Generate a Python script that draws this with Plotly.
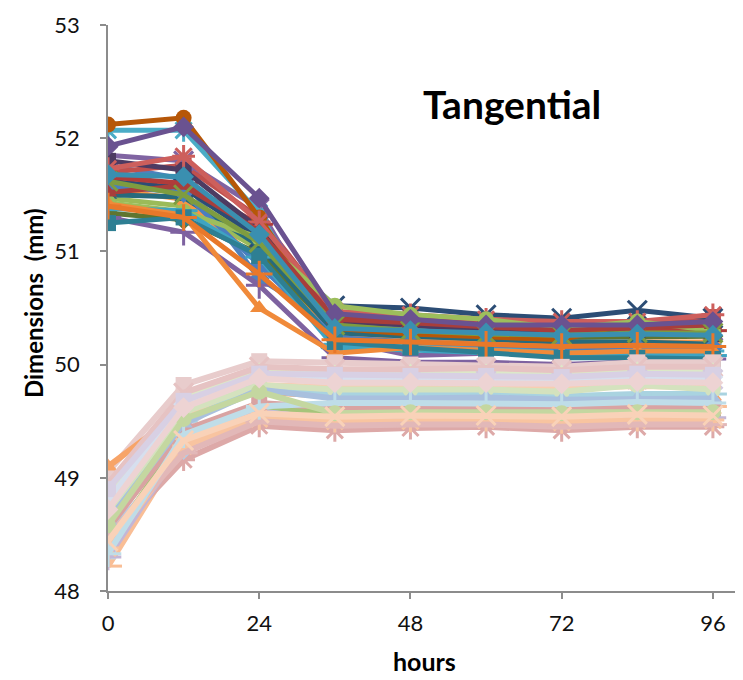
import plotly.graph_objects as go

hours = [0, 12, 24, 36, 48, 60, 72, 84, 96]
x_ticks = [0, 24, 48, 72, 96]
y_ticks = [48, 49, 50, 51, 52, 53]

# Upper group (initially swollen samples)
u01 = [51.76, 51.64, 50.76, 50.35, 50.33, 50.30, 50.30, 50.30, 50.30]
u02 = [51.70, 51.76, 51.30, 50.45, 50.42, 50.38, 50.36, 50.36, 50.42]
u03 = [51.47, 51.40, 51.02, 50.40, 50.38, 50.34, 50.30, 50.32, 50.32]
u04 = [51.85, 51.80, 51.38, 50.22, 50.08, 50.10, 50.10, 50.12, 50.15]
u05 = [52.07, 52.07, 51.34, 50.18, 50.17, 50.15, 50.13, 50.13, 50.12]
u06 = [51.55, 51.46, 50.92, 50.26, 50.22, 50.20, 50.18, 50.20, 50.20]
u07 = [51.62, 51.56, 51.12, 50.52, 50.50, 50.44, 50.41, 50.48, 50.41]
u08 = [51.66, 51.60, 51.24, 50.43, 50.40, 50.35, 50.33, 50.32, 50.30]
u09 = [51.34, 51.28, 50.98, 50.30, 50.28, 50.25, 50.24, 50.24, 50.25]
u10 = [51.80, 51.72, 51.20, 50.38, 50.35, 50.30, 50.28, 50.28, 50.27]
u11 = [51.50, 51.48, 51.05, 50.28, 50.25, 50.22, 50.20, 50.20, 50.18]
u12 = [52.12, 52.18, 51.30, 50.32, 50.27, 50.25, 50.22, 50.38, 50.35]
u13 = [51.58, 51.52, 50.88, 50.24, 50.20, 50.18, 50.15, 50.15, 50.15]
u14 = [51.73, 51.84, 51.26, 50.47, 50.44, 50.40, 50.38, 50.38, 50.44]
u15 = [51.43, 51.35, 51.12, 50.52, 50.44, 50.40, 50.32, 50.38, 50.30]
u16 = [51.30, 51.17, 50.70, 50.06, 50.02, 50.02, 50.00, 50.03, 50.05]
u17 = [51.38, 51.36, 50.95, 50.15, 50.13, 50.10, 50.08, 50.08, 50.08]
u18 = [51.42, 51.32, 50.50, 50.10, 50.15, 50.12, 50.10, 50.12, 50.12]
u19 = [51.25, 51.30, 50.96, 50.20, 50.15, 50.10, 50.06, 50.06, 50.05]
u20 = [51.52, 51.58, 51.18, 50.40, 50.37, 50.33, 50.30, 50.33, 50.35]
u21 = [51.62, 51.50, 51.08, 50.35, 50.30, 50.27, 50.26, 50.28, 50.28]
u22 = [51.93, 52.10, 51.47, 50.45, 50.40, 50.35, 50.35, 50.35, 50.38]
u23 = [51.68, 51.66, 51.15, 50.32, 50.30, 50.28, 50.26, 50.27, 50.26]
u24 = [51.40, 51.30, 50.80, 50.22, 50.20, 50.18, 50.16, 50.17, 50.16]

# Lower group (initially dry samples)
l01 = [49.05, 49.82, 50.03, 50.02, 50.00, 50.00, 49.98, 50.02, 50.02]
l02 = [48.22, 49.30, 49.62, 49.60, 49.62, 49.62, 49.60, 49.63, 49.63]
l03 = [49.10, 49.60, 49.76, 49.72, 49.73, 49.73, 49.70, 49.72, 49.72]
l04 = [48.45, 49.16, 49.46, 49.42, 49.44, 49.45, 49.42, 49.45, 49.45]
l05 = [48.85, 49.70, 49.95, 49.93, 49.94, 49.94, 49.93, 49.96, 49.95]
l06 = [48.60, 49.45, 49.88, 49.86, 49.86, 49.86, 49.85, 49.87, 49.87]
l07 = [48.35, 49.35, 49.60, 49.58, 49.60, 49.60, 49.58, 49.60, 49.60]
l08 = [48.75, 49.55, 49.82, 49.80, 49.80, 49.80, 49.79, 49.81, 49.80]
l09 = [48.50, 49.25, 49.55, 49.66, 49.68, 49.68, 49.66, 49.68, 49.66]
l10 = [48.95, 49.75, 49.98, 49.96, 49.96, 49.97, 49.95, 49.98, 49.98]
l11 = [48.40, 49.40, 49.64, 49.56, 49.57, 49.57, 49.55, 49.57, 49.55]
l12 = [48.65, 49.50, 49.80, 49.74, 49.74, 49.74, 49.72, 49.74, 49.74]
l13 = [48.30, 49.30, 49.58, 49.52, 49.53, 49.53, 49.52, 49.53, 49.53]
l14 = [48.80, 49.65, 49.90, 49.88, 49.88, 49.88, 49.86, 49.89, 49.89]
l15 = [48.55, 49.42, 49.66, 49.62, 49.62, 49.62, 49.60, 49.62, 49.62]
l16 = [48.70, 49.58, 49.82, 49.78, 49.78, 49.78, 49.76, 49.82, 49.78]
l17 = [48.38, 49.28, 49.52, 49.50, 49.50, 49.51, 49.49, 49.51, 49.51]
l18 = [48.90, 49.68, 49.92, 49.91, 49.90, 49.90, 49.89, 49.92, 49.91]
l19 = [48.48, 49.22, 49.50, 49.46, 49.47, 49.47, 49.45, 49.47, 49.47]
l20 = [48.62, 49.48, 49.78, 49.70, 49.70, 49.71, 49.69, 49.70, 49.70]
l21 = [48.33, 49.38, 49.63, 49.66, 49.66, 49.66, 49.65, 49.67, 49.66]
l22 = [48.58, 49.52, 49.76, 49.57, 49.58, 49.58, 49.57, 49.58, 49.58]
l23 = [48.72, 49.62, 49.88, 49.84, 49.84, 49.84, 49.83, 49.85, 49.84]
l24 = [48.44, 49.33, 49.57, 49.54, 49.55, 49.55, 49.54, 49.56, 49.55]

upper = [u01, u02, u03, u04, u05, u06, u07, u08, u09, u10, u11, u12,
         u13, u14, u15, u16, u17, u18, u19, u20, u21, u22, u23, u24]
lower = [l01, l02, l03, l04, l05, l06, l07, l08, l09, l10, l11, l12,
         l13, l14, l15, l16, l17, l18, l19, l20, l21, l22, l23, l24]

# styles
upper_colors = ["#4F81BD", "#C0504D", "#9BBB59", "#8064A2", "#4BACC6", "#F79646",
                "#2C4D75", "#B03C3A", "#5F7530", "#4D3B62", "#276A7C", "#B65708",
                "#4A7EC0", "#CD5F5C", "#9DBE5C", "#7E62A0", "#3FA4C2", "#F08A3A",
                "#2E7F93", "#A83E3B", "#7E9C40", "#6A5290", "#3A8FB0", "#E8782A"]
upper_markers = ["diamond", "square", "triangle-up", "x-thin-open", "asterisk-open", "circle",
                 "x-thin-open", "line-ew-open", "diamond", "square", "triangle-up", "circle",
                 "diamond", "asterisk-open", "circle", "cross-thin-open", "line-ew-open", "triangle-up",
                 "square", "triangle-up", "x-thin-open", "diamond", "diamond", "cross-thin-open"]
lower_colors = ["#E8CCCC", "#F9BE96", "#F7A468", "#DDA9A8", "#DCE8C8", "#D3CADF",
                "#BEDCE6", "#F9CDB0", "#B8CAE3", "#E6C3C3", "#A6C47A", "#A9D3E0",
                "#C4B6D6", "#D6DFEE", "#D9A3A2", "#D4E2BE", "#F8C4A0", "#D8D0E4",
                "#E2B8B8", "#A9C0DE", "#BFDDE8", "#C4D7A0", "#EDD3D3", "#F9D2B8"]
lower_markers = ["square", "line-ew-open", "triangle-up", "asterisk-open", "triangle-up", "x-thin-open",
                 "square", "circle", "diamond", "x-thin-open", "circle", "line-ew-open",
                 "cross-thin-open", "diamond", "square", "circle", "asterisk-open", "square",
                 "line-ew-open", "triangle-up", "cross-thin-open", "circle", "diamond", "x-thin-open"]

fig = go.Figure()


def add(vals, color, sym, lw):
    open_sym = sym.endswith("-open")
    size = 19 if open_sym else 16
    if sym == "line-ew-open":
        size = 20
    fig.add_trace(go.Scatter(
        x=hours, y=vals, mode="lines+markers",
        line=dict(color=color, width=lw),
        marker=dict(symbol=sym, size=size, color=color,
                    line=dict(color=color, width=3 if open_sym else 0)),
        showlegend=False, hoverinfo="skip"))


for vals, c, m in zip(upper, upper_colors, upper_markers):
    add(vals, c, m, 5)
for vals, c, m in zip(lower, lower_colors, lower_markers):
    add(vals, c, m, 6)

font_family = "Lato, sans-serif"

# plot area in page pixels: x 108..740, y 15..591 (page has 8px body margin)
PX0, PX1, PY0, PY1 = 108, 740, 15, 591


def px(xp):
    return (xp - PX0) / (PX1 - PX0)


def py(yp):
    return 1 - (yp - PY0) / (PY1 - PY0)


fig.add_annotation(text="Tangential", xref="paper", yref="paper",
                   x=px(512), y=py(95), xanchor="center", yanchor="middle",
                   showarrow=False,
                   font=dict(family=font_family, size=39, color="#000", weight="bold"))
fig.add_annotation(text="Dimensions\u00a0\u00a0(mm)", xref="paper", yref="paper",
                   x=px(33), y=py(298), xanchor="center", yanchor="middle", textangle=-90,
                   showarrow=False,
                   font=dict(family=font_family, size=24, color="#000", weight="bold"))
fig.add_annotation(text="hours", xref="paper", yref="paper",
                   x=px(424), y=py(662), xanchor="center", yanchor="middle",
                   showarrow=False,
                   font=dict(family=font_family, size=25, color="#000", weight="bold"))

fig.update_layout(
    width=735, height=672,
    margin=dict(l=100, r=3, t=7, b=89),
    paper_bgcolor="white", plot_bgcolor="white",
    font=dict(family=font_family, color="#111"),
    xaxis=dict(range=[0, 100.3], tickvals=x_ticks, ticktext=[str(v) for v in x_ticks],
               showgrid=False, zeroline=False, showline=True, linecolor="#8c8c8c", linewidth=1.5,
               ticks="outside", ticklen=6, tickcolor="#8c8c8c", tickwidth=1.5,
               ticklabelstandoff=6, ticklabeloverflow="allow",
               tickfont=dict(size=22, color="#111")),
    yaxis=dict(range=[48, 53], tickvals=y_ticks, ticktext=[str(v) for v in y_ticks],
               showgrid=False, zeroline=False, showline=True, linecolor="#8c8c8c", linewidth=1.5,
               ticks="outside", ticklen=6, tickcolor="#8c8c8c", tickwidth=1.5,
               ticklabelstandoff=16, ticklabeloverflow="allow",
               tickfont=dict(size=22, color="#111")),
)

fig.write_html("out.html")
